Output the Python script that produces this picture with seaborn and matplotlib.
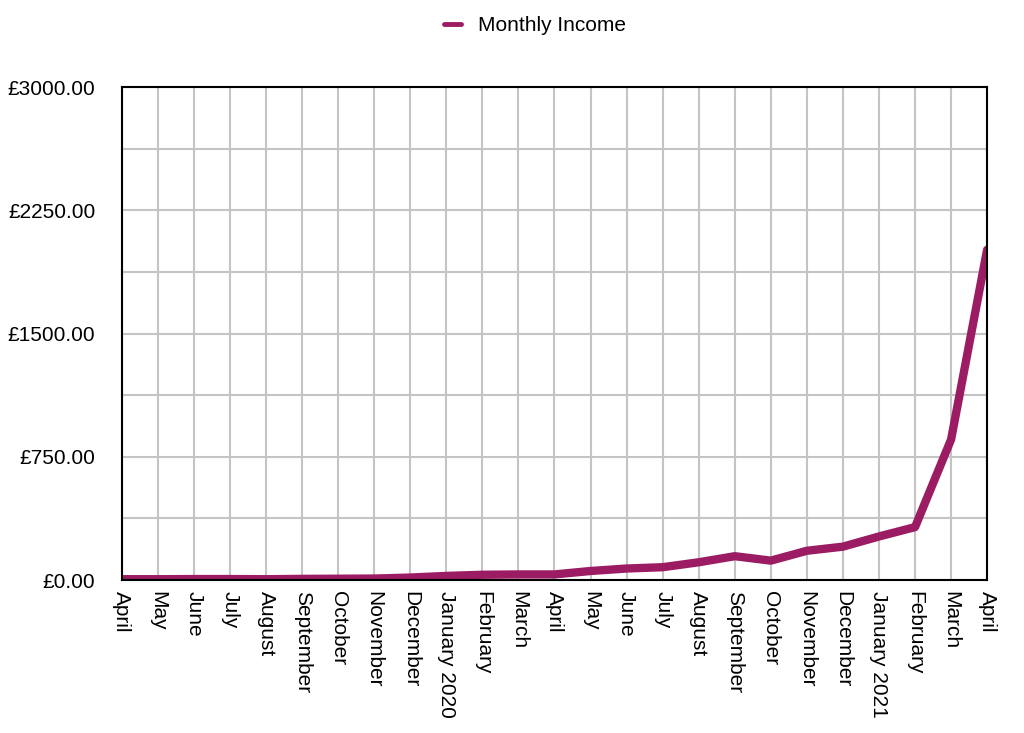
import matplotlib
matplotlib.use("Agg")
import matplotlib.pyplot as plt
import seaborn as sns
import pandas as pd
import numpy as np

months = ["April", "May", "June", "July", "August", "September", "October",
          "November", "December", "January 2020", "February", "March", "April",
          "May", "June", "July", "August", "September", "October", "November",
          "December", "January 2021", "February", "March", "April"]
income = [5, 5, 6, 6, 5, 7, 8, 9, 15, 25, 32, 34, 34, 55, 70, 78, 108, 145,
          118, 178, 203, 265, 322, 855, 2010]
y_ticks = [0, 750, 1500, 2250, 3000]
y_labels = ["£0.00", "£750.00", "£1500.00", "£2250.00", "£3000.00"]

sns.set_style("white")
plt.rcParams['font.family'] = ['Liberation Sans', 'DejaVu Sans']
plt.rcParams['text.color'] = 'black'
plt.rcParams['xtick.color'] = 'black'
plt.rcParams['ytick.color'] = 'black'

df = pd.DataFrame({"idx": np.arange(len(months)), "income": income,
                   "series": "Monthly Income"})

fig = plt.figure(figsize=(10.24, 7.33), dpi=100)
ax = fig.add_axes([0.119, 0.2087, 0.845, 0.6726])

sns.lineplot(data=df, x="idx", y="income", hue="series",
             palette=["#9b1c63"], linewidth=6, ax=ax, legend=True)

ax.set_xlim(0, len(months) - 1)
ax.set_ylim(0, 3000)
ax.set_xticks(np.arange(len(months)))
ax.set_xticklabels(months, rotation=270, fontsize=15, va="top", ha="center")
ax.set_yticks(y_ticks)
ax.set_yticklabels(y_labels, fontsize=15)
ax.set_yticks(np.arange(375, 3000, 750), minor=True)
ax.tick_params(axis="both", which="both", length=0, labelcolor="black")
ax.tick_params(axis="x", pad=8)
ax.tick_params(axis="y", pad=19)
ax.grid(True, which="major", color="#c4c4c4", linewidth=1.5)
ax.grid(True, which="minor", axis="y", color="#c4c4c4", linewidth=1.5)
ax.set_axisbelow(True)
for s in ax.spines.values():
    s.set_visible(True)
    s.set_color("black")
    s.set_linewidth(1.5)
ax.set_xlabel("")
ax.set_ylabel("")

leg = ax.legend(loc="center", bbox_to_anchor=(0.4775, 1.124),
                frameon=False, fontsize=15, handlelength=0.8, ncol=1,
                bbox_transform=ax.transAxes)
for t in leg.get_texts():
    t.set_color("black")
for l in leg.get_lines():
    l.set_linewidth(3.5)

fig.savefig("out.png", dpi=100)
